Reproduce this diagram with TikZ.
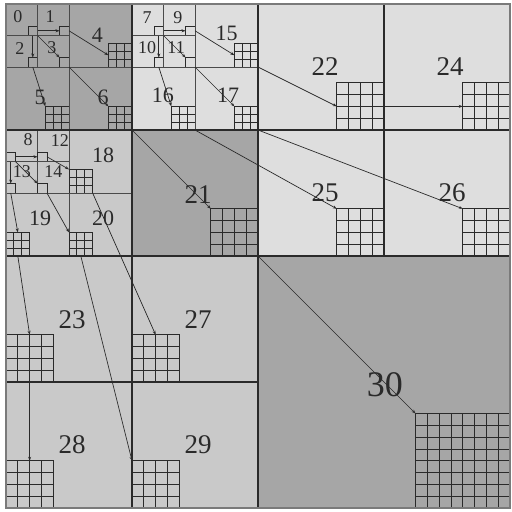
\documentclass[tikz,border=0pt]{standalone}
\usepackage{fontspec}
\setmainfont{Liberation Serif}
\usetikzlibrary{calc,arrows.meta}
\definecolor{dk}{HTML}{A6A6A6}
\definecolor{lt}{HTML}{DEDEDE}
\definecolor{md}{HTML}{C9C9C9}
\definecolor{ink}{HTML}{2A2A2A}
\definecolor{frame}{HTML}{7A7A7A}
\newcommand{\qgrid}[5]{%
  \node[gbox, minimum size={#4*31.5pt}, anchor=north west] (#1) at (#2,#3) {};
  \ifnum#5>1
    \pgfmathtruncatemacro{\qn}{#5-1}%
    \foreach \k in {1,...,\qn} {%
      \draw[gline] ($(#1.north west)!\k/#5!(#1.north east)$) -- ($(#1.south west)!\k/#5!(#1.south east)$);
      \draw[gline] ($(#1.north west)!\k/#5!(#1.south west)$) -- ($(#1.north east)!\k/#5!(#1.south east)$);
    }%
  \fi
}
\begin{document}
\begin{tikzpicture}[x=31.5pt,y=-31.5pt,
  gbox/.style={draw=ink, line width=0.9pt, inner sep=0pt, outer sep=0pt, rectangle},
  gline/.style={draw=ink, line width=0.85pt},
  cellline/.style={draw=ink!85, line width=0.8pt},
  link/.style={draw=ink, line width=0.7pt, -{Stealth[length=4pt,width=3pt]}},
  lab/.style={text=ink, inner sep=0pt}]
\useasboundingbox[fill=white] (-0.1905,-0.127) rectangle (16.032,16.127);
% cells: name/x/y/size/side(1=right,0=left)/colour
\foreach \n/\x/\y/\s/\sd/\c in {
  0/0/0/1/1/dk, 1/1/0/1/1/dk, 2/0/1/1/1/dk, 3/1/1/1/1/dk,
  4/2/0/2/1/dk, 5/0/2/2/1/dk, 6/2/2/2/1/dk,
  7/4/0/1/1/lt, 9/5/0/1/1/lt, 10/4/1/1/1/lt, 11/5/1/1/1/lt,
  15/6/0/2/1/lt, 16/4/2/2/1/lt, 17/6/2/2/1/lt,
  8/0/4/1/0/md, 12/1/4/1/0/md, 13/0/5/1/0/md, 14/1/5/1/0/md,
  18/2/4/2/0/md, 19/0/6/2/0/md, 20/2/6/2/0/md,
  21/4/4/4/1/dk,
  22/8/0/4/1/lt, 24/12/0/4/1/lt, 25/8/4/4/1/lt, 26/12/4/4/1/lt,
  23/0/8/4/0/md, 27/4/8/4/0/md, 28/0/12/4/0/md, 29/4/12/4/0/md,
  30/8/8/8/1/dk} {
  \fill[\c] (\x,\y) rectangle ++(\s,\s);
  \draw[cellline] (\x,\y) rectangle ++(\s,\s);
  \pgfmathsetmacro{\w}{\s==1 ? 0.3 : (\s==2 ? 0.75 : (\s==4 ? 1.5 : 3))}
  \pgfmathtruncatemacro{\nn}{\s==1 ? 1 : (\s==2 ? 3 : (\s==4 ? 4 : 8))}
  \pgfmathsetmacro{\gx}{\x + \sd*(\s-\w)}
  \pgfmathsetmacro{\gy}{\y + \s - \w}
  \qgrid{g\n}{\gx}{\gy}{\w}{\nn}
}
% major lines
\draw[ink, line width=1.1pt] (0,8) -- (16,8) (8,0) -- (8,16) (0,4) -- (8,4) (4,0) -- (4,16) (0,12) -- (8,12) (12,0) -- (12,8) (8,4) -- (16,4);
\draw[frame, line width=1.4pt] (0,0) rectangle (16,16);
% connectors
\draw[link] (g0.east) -- (g1.west);
\draw[link] (g0.south) -- (g2.north);
\draw[link] (g0.south east) -- (g3.north west);
\draw[link] (g1.east) -- (g4.west);
\draw[link] (g2.south) -- (g5.north west);
\draw[link] (g3.south east) -- (g6.north west);
\draw[link] (g6.south east) -- (g21.north west);
\draw[link] (g21.south east) -- (g30.north west);
\draw[link] (g7.east) -- (g9.west);
\draw[link] (g7.south) -- (g10.north);
\draw[link] (g7.south east) -- (g11.north west);
\draw[link] (g9.east) -- (g15.west);
\draw[link] (g10.south) -- (g16.north west);
\draw[link] (g11.south east) -- (g17.north west);
\draw[link] (g15.south east) -- (g22.west);
\draw[link] (g22.east) -- (g24.west);
\draw[link] (g16.south east) -- (g25.north west);
\draw[link] (g17.south east) -- (g26.north west);
\draw[link] (g8.east) -- (g12.west);
\draw[link] (g8.south) -- (g13.north);
\draw[link] (g8.south east) -- (g14.north west);
\draw[link] (g12.east) -- (g18.north west);
\draw[link] (g13.south) -- (g19.north);
\draw[link] (g14.south east) -- (g20.north west);
\draw[link] (g18.south east) -- (g27.north);
\draw[link] (g19.south) -- (g23.north);
\draw[link] (g20.south) -- (g29.north west);
\draw[link] (g23.south) -- (g28.north);
% labels
\foreach \n/\x/\y/\f in {
  0/0.38/0.41/18, 1/1.4/0.41/18, 2/0.44/1.4/18, 3/1.46/1.4/18,
  4/2.9/1.0/22, 5/1.08/2.95/22, 6/3.08/2.95/22,
  7/4.48/0.44/18, 9/5.46/0.44/18, 10/4.48/1.37/18, 11/5.4/1.37/18,
  15/7.0/0.92/22, 16/4.98/2.89/22, 17/7.05/2.89/22,
  8/0.7/4.32/18, 12/1.71/4.32/18, 13/0.5/5.33/18, 14/1.5/5.33/18,
  18/3.08/4.79/22, 19/1.08/6.79/22, 20/3.08/6.79/22,
  21/6.1/6.06/27, 22/10.13/2.0/27, 24/14.1/2.0/27, 25/10.13/6.0/27, 26/14.16/6.0/27,
  23/2.1/10.03/27, 27/6.1/10.03/27, 28/2.1/14.0/27, 29/6.1/14.0/27,
  30/12.03/12.1/36} {
  \node[lab, font=\fontsize{\f}{\f}\selectfont] (l\n) at (\x,\y) {\n};
}
\end{tikzpicture}
\end{document}
